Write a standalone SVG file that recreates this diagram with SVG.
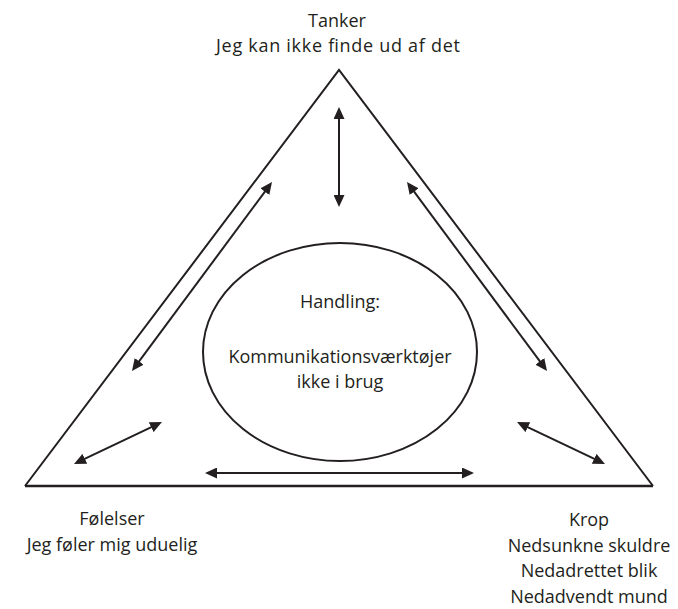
<svg xmlns="http://www.w3.org/2000/svg" width="678" height="609" viewBox="0 0 678 609">
  <style>
    .lbl { font-family: "Open Sans", "Noto Sans", "DejaVu Sans", sans-serif; font-size: 18px; fill: #231f20; text-anchor: middle; }
    .edge { fill: none; stroke: #231f20; stroke-width: 2; }
    .arrow { fill: none; stroke: #231f20; stroke-width: 2; marker-start: url(#head); marker-end: url(#head); }
  </style>
  <defs>
    <marker id="head" markerUnits="userSpaceOnUse" markerWidth="12" markerHeight="11" refX="2" refY="5.5" orient="auto-start-reverse">
      <path d="M0,0 L12,5.5 L0,11 z" fill="#231f20"/>
    </marker>
  </defs>
  <rect width="678" height="609" fill="#ffffff"/>

  <!-- outer triangle -->
  <g id="frame">
    <polyline class="edge" points="25,486 339,70 653,486"/>
    <line x1="25" y1="486" x2="653" y2="486" stroke="#231f20" stroke-width="2.6"/>
  </g>

  <g id="tanker">
    <text class="lbl" x="337" y="27">Tanker</text>
    <text class="lbl" x="338" y="52" textLength="244" lengthAdjust="spacing">Jeg kan ikke finde ud af det</text>
  </g>

  <g id="foelelser">
    <text class="lbl" x="112" y="525">Følelser</text>
    <text class="lbl" x="112" y="551">Jeg føler mig uduelig</text>
  </g>

  <g id="krop">
    <text class="lbl" x="589" y="526">Krop</text>
    <text class="lbl" x="589" y="552">Nedsunkne skuldre</text>
    <text class="lbl" x="589" y="577">Nedadrettet blik</text>
    <text class="lbl" x="589" y="603">Nedadvendt mund</text>
  </g>

  <g id="handling">
    <ellipse class="edge" cx="340" cy="352" rx="137" ry="109"/>
    <text class="lbl" x="340" y="308">Handling:</text>
    <text class="lbl" x="340" y="363">Kommunikationsværktøjer</text>
    <text class="lbl" x="340" y="388">ikke i brug</text>
  </g>

  <!-- two-way connectors -->
  <g id="connectors">
    <line class="arrow" x1="339" y1="117" x2="339" y2="197"/>
    <line class="arrow" x1="137.95" y1="362.96" x2="266.05" y2="190.04"/>
    <line class="arrow" x1="541.05" y1="362.96" x2="412.95" y2="190.04"/>
    <line class="arrow" x1="83.03" y1="459.69" x2="152.97" y2="426.31"/>
    <line class="arrow" x1="595.97" y1="459.69" x2="526.03" y2="426.31"/>
    <line class="arrow" x1="215" y1="473" x2="464" y2="473"/>
  </g>
</svg>
